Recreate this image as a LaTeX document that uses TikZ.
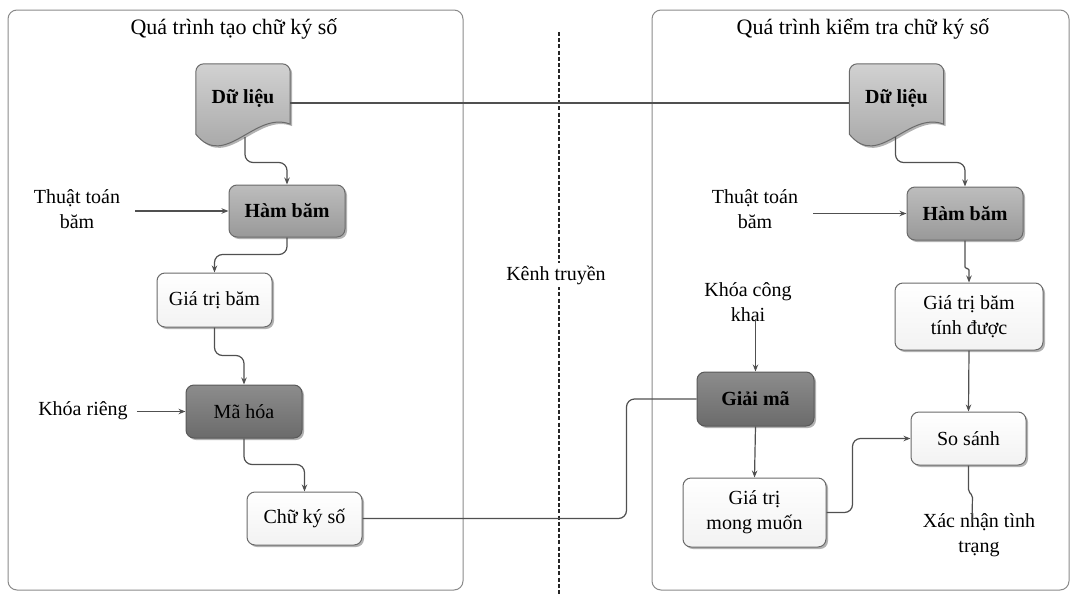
\documentclass[tikz,border=0pt]{standalone}
\usepackage{fontspec}
\setmainfont{Liberation Serif}
\usetikzlibrary{shadows,arrows.meta,calc}
\definecolor{edgecol}{HTML}{505050}
\definecolor{boxedge}{HTML}{6A6A6A}
\definecolor{panelcol}{HTML}{8A8A8A}
\newcommand\DocShape[1]{%
  \path[docsty] (#1.south west) {[rounded corners=8pt] -- (#1.north west) -- (#1.north east)} -- ([yshift=8pt]#1.south east)
    .. controls +(-35,-14) and +(29,36) .. ([yshift=-2pt]#1.south west) -- cycle;}
\begin{document}
\begin{tikzpicture}[x=1pt,y=-1pt,
  txt/.style={font=\fontsize{20}{25}\selectfont, align=center, inner sep=1pt},
  ttl/.style={font=\fontsize{22}{26}\selectfont, inner sep=1pt},
  box/.style={draw=boxedge, line width=1pt, rounded corners=8pt, inner sep=0pt,
    align=center, font=\fontsize{20}{25}\selectfont,
    drop shadow={shadow xshift=2pt, shadow yshift=-2pt, opacity=0.3, fill=black}},
  lightbox/.style={box, top color=white, bottom color=black!5},
  midbox/.style={box, top color=black!26, bottom color=black!40, font=\fontsize{20}{25}\selectfont\bfseries},
  darkbox/.style={box, draw=black!65, top color=black!45, bottom color=black!58},
  docsty/.style={draw=boxedge, line width=1pt, top color=black!18, bottom color=black!38,
    drop shadow={shadow xshift=2pt, shadow yshift=-2pt, opacity=0.3, fill=black}},
  docnode/.style={minimum width=94pt, minimum height=68pt, inner sep=0pt, font=\fontsize{20}{25}\selectfont\bfseries},
  panel/.style={draw=panelcol, line width=1pt, rounded corners=9pt},
  conn/.style={draw=edgecol, line width=1.2pt, rounded corners=8pt},
  arr/.style={conn, -{Stealth[length=7pt,width=5.5pt]}}
]
\useasboundingbox (0,0) rectangle (1072,595);
% panels
\draw[panel] (8,10) rectangle (463,590);
\draw[panel] (652,10) rectangle (1069,590);
\node[ttl] (t1) at (234,29) {Quá trình tạo chữ ký số};
\node[ttl] (t2) at (863,29) {Quá trình kiểm tra chữ ký số};
% channel
\coordinate (chtop) at (559,32);
\coordinate (chbot) at (559,595);
\draw[black!85, line width=2.6pt, dash pattern=on 4pt off 2.2pt] (chtop) -- (chbot);
\node[txt, fill=white, inner sep=3pt] (kenh) at (556,275) {Kênh truyền};

% left side
\node[docnode] (dl1) at (243,98) {};
\DocShape{dl1}
\node[docnode] at (dl1) {Dữ liệu};
\coordinate (dl1b) at ([xshift=2pt,yshift=-5pt]dl1.south);
\node[midbox, minimum width=116pt, minimum height=52pt] (hb1) at (287,211) {Hàm băm};
\node[lightbox, minimum width=115pt, minimum height=54pt] (gt1) at (214.5,300) {Giá trị băm};
\node[darkbox, minimum width=116pt, minimum height=53pt] (mh1) at (244,411.5) {Mã hóa};
\node[lightbox, minimum width=115pt, minimum height=53pt] (cks1) at (304.5,518.5) {Chữ ký số};
\node[txt] (tt1) at (77,209) {Thuật toán\\băm};
\node[txt] (kr1) at (83,411) {Khóa riêng};

% right side
\node[docnode] (dl2) at (896.5,98) {};
\DocShape{dl2}
\node[docnode] at (dl2) {Dữ liệu};
\coordinate (dl2b) at ([xshift=-1pt,yshift=-5pt]dl2.south);
\node[midbox, minimum width=116pt, minimum height=53pt] (hb2) at (965,213.5) {Hàm băm};
\node[lightbox, minimum width=148pt, minimum height=67pt] (gtt) at (969,316.5) {Giá trị băm\\tính được};
\node[lightbox, minimum width=115pt, minimum height=53pt] (ss) at (968.5,438.5) {So sánh};
\node[darkbox, minimum width=117pt, minimum height=54pt, font=\fontsize{20}{25}\selectfont\bfseries] (gm) at (755.5,399) {Giải mã};
\node[lightbox, minimum width=143pt, minimum height=69pt] (gmm) at (754.5,512.5) {Giá trị\\mong muốn};
\node[txt] (tt2) at (755,209) {Thuật toán\\băm};
\node[txt] (kck) at (748,302) {Khóa công\\khai};
\node[txt] (xn) at (979,535) {Xác nhận tình\\trạng};

% connectors left
\draw[arr] (dl1b) |- ([yshift=22pt]hb1.north) -- (hb1.north);
\draw[arr] ([xshift=14pt]tt1.east |- hb1.west) -- (hb1.west);
\draw[arr] (hb1.south) |- ([yshift=18pt]gt1.north) -- (gt1.north);
\draw[arr] (gt1.south) |- ([yshift=29pt]mh1.north) -- (mh1.north);
\draw[arr] ([xshift=8pt]kr1.east |- mh1.west) -- (mh1.west);
\draw[arr] (mh1.south) |- ([yshift=27pt]cks1.north) -- (cks1.north);
% cross connectors
\draw[conn] ([yshift=-5pt]dl1.east) -- ([yshift=-5pt]dl2.west);
\draw[conn] (cks1.east) -| ([xshift=-70pt]gm.west) -- (gm.west);
% connectors right
\draw[arr] (dl2b) |- ([yshift=24pt]hb2.north) -- (hb2.north);
\draw[arr] ([xshift=14pt]tt2.east |- hb2.west) -- (hb2.west);
\draw[arr, rounded corners=1.5pt] (hb2.south) |- ([yshift=14pt]gtt.north) -- (gtt.north);
\draw[arr] (gtt.south) -- (ss.north);
\draw[arr] ([yshift=4pt]kck.south -| gm.north) -- (gm.north);
\draw[arr] (gm.south) -- (gmm.north);
\draw[arr] (gmm.east) -| ([xshift=-58pt]ss.west) -- (ss.west);
\coordinate (xnend) at (972,522);
\draw[conn, rounded corners=2pt] (ss.south) -- ++(0,26) -- ++(4,4) -- (xnend);
\end{tikzpicture}
\end{document}
